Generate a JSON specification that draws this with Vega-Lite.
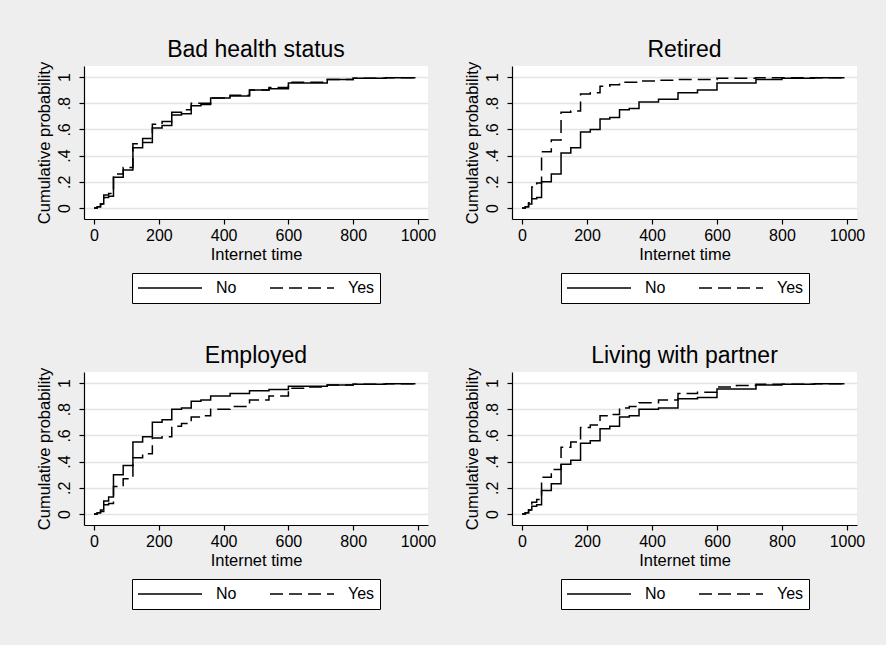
{
  "$schema": "https://vega.github.io/schema/vega-lite/v6.json",
  "background": "#EEEEEE",
  "padding": {"left": 35, "top": 39, "right": 32, "bottom": 38},
  "config": {
    "font": "Liberation Sans",
    "view": {"fill": "white", "stroke": null},
    "title": {"fontSize": 23, "fontWeight": "normal", "color": "black", "anchor": "middle", "frame": "group", "offset": -1},
    "axis": {"domainColor": "black", "domainWidth": 1.2, "tickColor": "black", "tickWidth": 1.2, "tickSize": 5, "labelFontSize": 16, "titleFontSize": 16.5, "titleFontWeight": "normal", "labelColor": "black", "titleColor": "black", "gridColor": "#E4E4E4", "gridWidth": 1.5},
    "axisX": {"labelPadding": 3, "titlePadding": 3},
    "axisY": {"labelPadding": 7, "titlePadding": 4},
    "legend": {"layout": {"bottom": {"anchor": "middle"}}}
  },
  "data": {"values": [
    {"panel": "Bad health status", "group": "No", "t": 0, "p": 0},
    {"panel": "Bad health status", "group": "No", "t": 10, "p": 0.01},
    {"panel": "Bad health status", "group": "No", "t": 20, "p": 0.03},
    {"panel": "Bad health status", "group": "No", "t": 30, "p": 0.08},
    {"panel": "Bad health status", "group": "No", "t": 45, "p": 0.09},
    {"panel": "Bad health status", "group": "No", "t": 60, "p": 0.235},
    {"panel": "Bad health status", "group": "No", "t": 90, "p": 0.29},
    {"panel": "Bad health status", "group": "No", "t": 120, "p": 0.46},
    {"panel": "Bad health status", "group": "No", "t": 150, "p": 0.5},
    {"panel": "Bad health status", "group": "No", "t": 180, "p": 0.61},
    {"panel": "Bad health status", "group": "No", "t": 210, "p": 0.63},
    {"panel": "Bad health status", "group": "No", "t": 240, "p": 0.71},
    {"panel": "Bad health status", "group": "No", "t": 270, "p": 0.72},
    {"panel": "Bad health status", "group": "No", "t": 300, "p": 0.78},
    {"panel": "Bad health status", "group": "No", "t": 330, "p": 0.79},
    {"panel": "Bad health status", "group": "No", "t": 360, "p": 0.84},
    {"panel": "Bad health status", "group": "No", "t": 420, "p": 0.855},
    {"panel": "Bad health status", "group": "No", "t": 480, "p": 0.9},
    {"panel": "Bad health status", "group": "No", "t": 540, "p": 0.91},
    {"panel": "Bad health status", "group": "No", "t": 600, "p": 0.955},
    {"panel": "Bad health status", "group": "No", "t": 720, "p": 0.98},
    {"panel": "Bad health status", "group": "No", "t": 800, "p": 0.99},
    {"panel": "Bad health status", "group": "No", "t": 900, "p": 0.995},
    {"panel": "Bad health status", "group": "No", "t": 990, "p": 1},
    {"panel": "Bad health status", "group": "Yes", "t": 0, "p": 0},
    {"panel": "Bad health status", "group": "Yes", "t": 10, "p": 0.01},
    {"panel": "Bad health status", "group": "Yes", "t": 20, "p": 0.03},
    {"panel": "Bad health status", "group": "Yes", "t": 30, "p": 0.1},
    {"panel": "Bad health status", "group": "Yes", "t": 45, "p": 0.11},
    {"panel": "Bad health status", "group": "Yes", "t": 60, "p": 0.26},
    {"panel": "Bad health status", "group": "Yes", "t": 90, "p": 0.31},
    {"panel": "Bad health status", "group": "Yes", "t": 120, "p": 0.49},
    {"panel": "Bad health status", "group": "Yes", "t": 150, "p": 0.53},
    {"panel": "Bad health status", "group": "Yes", "t": 180, "p": 0.64},
    {"panel": "Bad health status", "group": "Yes", "t": 210, "p": 0.66},
    {"panel": "Bad health status", "group": "Yes", "t": 240, "p": 0.73},
    {"panel": "Bad health status", "group": "Yes", "t": 270, "p": 0.75},
    {"panel": "Bad health status", "group": "Yes", "t": 300, "p": 0.8},
    {"panel": "Bad health status", "group": "Yes", "t": 330, "p": 0.8},
    {"panel": "Bad health status", "group": "Yes", "t": 360, "p": 0.84},
    {"panel": "Bad health status", "group": "Yes", "t": 420, "p": 0.86},
    {"panel": "Bad health status", "group": "Yes", "t": 480, "p": 0.9},
    {"panel": "Bad health status", "group": "Yes", "t": 540, "p": 0.92},
    {"panel": "Bad health status", "group": "Yes", "t": 600, "p": 0.96},
    {"panel": "Bad health status", "group": "Yes", "t": 720, "p": 0.98},
    {"panel": "Bad health status", "group": "Yes", "t": 800, "p": 0.99},
    {"panel": "Bad health status", "group": "Yes", "t": 900, "p": 0.995},
    {"panel": "Bad health status", "group": "Yes", "t": 990, "p": 1},
    {"panel": "Retired", "group": "No", "t": 0, "p": 0},
    {"panel": "Retired", "group": "No", "t": 10, "p": 0.01},
    {"panel": "Retired", "group": "No", "t": 20, "p": 0.03},
    {"panel": "Retired", "group": "No", "t": 30, "p": 0.07},
    {"panel": "Retired", "group": "No", "t": 45, "p": 0.08},
    {"panel": "Retired", "group": "No", "t": 60, "p": 0.2},
    {"panel": "Retired", "group": "No", "t": 90, "p": 0.26},
    {"panel": "Retired", "group": "No", "t": 120, "p": 0.42},
    {"panel": "Retired", "group": "No", "t": 150, "p": 0.46},
    {"panel": "Retired", "group": "No", "t": 180, "p": 0.58},
    {"panel": "Retired", "group": "No", "t": 210, "p": 0.6},
    {"panel": "Retired", "group": "No", "t": 240, "p": 0.68},
    {"panel": "Retired", "group": "No", "t": 270, "p": 0.69},
    {"panel": "Retired", "group": "No", "t": 300, "p": 0.75},
    {"panel": "Retired", "group": "No", "t": 330, "p": 0.76},
    {"panel": "Retired", "group": "No", "t": 360, "p": 0.81},
    {"panel": "Retired", "group": "No", "t": 420, "p": 0.83},
    {"panel": "Retired", "group": "No", "t": 480, "p": 0.88},
    {"panel": "Retired", "group": "No", "t": 540, "p": 0.9},
    {"panel": "Retired", "group": "No", "t": 600, "p": 0.955},
    {"panel": "Retired", "group": "No", "t": 720, "p": 0.98},
    {"panel": "Retired", "group": "No", "t": 800, "p": 0.99},
    {"panel": "Retired", "group": "No", "t": 900, "p": 0.995},
    {"panel": "Retired", "group": "No", "t": 990, "p": 1},
    {"panel": "Retired", "group": "Yes", "t": 0, "p": 0},
    {"panel": "Retired", "group": "Yes", "t": 10, "p": 0.01},
    {"panel": "Retired", "group": "Yes", "t": 20, "p": 0.04},
    {"panel": "Retired", "group": "Yes", "t": 30, "p": 0.16},
    {"panel": "Retired", "group": "Yes", "t": 45, "p": 0.19},
    {"panel": "Retired", "group": "Yes", "t": 60, "p": 0.43},
    {"panel": "Retired", "group": "Yes", "t": 90, "p": 0.52},
    {"panel": "Retired", "group": "Yes", "t": 120, "p": 0.73},
    {"panel": "Retired", "group": "Yes", "t": 150, "p": 0.74},
    {"panel": "Retired", "group": "Yes", "t": 180, "p": 0.87},
    {"panel": "Retired", "group": "Yes", "t": 210, "p": 0.88},
    {"panel": "Retired", "group": "Yes", "t": 240, "p": 0.93},
    {"panel": "Retired", "group": "Yes", "t": 270, "p": 0.94},
    {"panel": "Retired", "group": "Yes", "t": 300, "p": 0.96},
    {"panel": "Retired", "group": "Yes", "t": 360, "p": 0.97},
    {"panel": "Retired", "group": "Yes", "t": 420, "p": 0.975},
    {"panel": "Retired", "group": "Yes", "t": 480, "p": 0.98},
    {"panel": "Retired", "group": "Yes", "t": 600, "p": 0.99},
    {"panel": "Retired", "group": "Yes", "t": 720, "p": 0.995},
    {"panel": "Retired", "group": "Yes", "t": 990, "p": 1},
    {"panel": "Employed", "group": "No", "t": 0, "p": 0},
    {"panel": "Employed", "group": "No", "t": 10, "p": 0.01},
    {"panel": "Employed", "group": "No", "t": 20, "p": 0.03},
    {"panel": "Employed", "group": "No", "t": 30, "p": 0.1},
    {"panel": "Employed", "group": "No", "t": 45, "p": 0.13},
    {"panel": "Employed", "group": "No", "t": 60, "p": 0.3},
    {"panel": "Employed", "group": "No", "t": 90, "p": 0.37},
    {"panel": "Employed", "group": "No", "t": 120, "p": 0.55},
    {"panel": "Employed", "group": "No", "t": 150, "p": 0.59},
    {"panel": "Employed", "group": "No", "t": 180, "p": 0.7},
    {"panel": "Employed", "group": "No", "t": 210, "p": 0.72},
    {"panel": "Employed", "group": "No", "t": 240, "p": 0.8},
    {"panel": "Employed", "group": "No", "t": 270, "p": 0.81},
    {"panel": "Employed", "group": "No", "t": 300, "p": 0.86},
    {"panel": "Employed", "group": "No", "t": 330, "p": 0.87},
    {"panel": "Employed", "group": "No", "t": 360, "p": 0.9},
    {"panel": "Employed", "group": "No", "t": 420, "p": 0.92},
    {"panel": "Employed", "group": "No", "t": 480, "p": 0.94},
    {"panel": "Employed", "group": "No", "t": 540, "p": 0.95},
    {"panel": "Employed", "group": "No", "t": 600, "p": 0.975},
    {"panel": "Employed", "group": "No", "t": 720, "p": 0.985},
    {"panel": "Employed", "group": "No", "t": 800, "p": 0.99},
    {"panel": "Employed", "group": "No", "t": 900, "p": 0.995},
    {"panel": "Employed", "group": "No", "t": 990, "p": 1},
    {"panel": "Employed", "group": "Yes", "t": 0, "p": 0},
    {"panel": "Employed", "group": "Yes", "t": 10, "p": 0.01},
    {"panel": "Employed", "group": "Yes", "t": 20, "p": 0.02},
    {"panel": "Employed", "group": "Yes", "t": 30, "p": 0.07},
    {"panel": "Employed", "group": "Yes", "t": 45, "p": 0.08},
    {"panel": "Employed", "group": "Yes", "t": 60, "p": 0.21},
    {"panel": "Employed", "group": "Yes", "t": 90, "p": 0.27},
    {"panel": "Employed", "group": "Yes", "t": 120, "p": 0.43},
    {"panel": "Employed", "group": "Yes", "t": 150, "p": 0.46},
    {"panel": "Employed", "group": "Yes", "t": 180, "p": 0.58},
    {"panel": "Employed", "group": "Yes", "t": 210, "p": 0.59},
    {"panel": "Employed", "group": "Yes", "t": 240, "p": 0.67},
    {"panel": "Employed", "group": "Yes", "t": 270, "p": 0.69},
    {"panel": "Employed", "group": "Yes", "t": 300, "p": 0.74},
    {"panel": "Employed", "group": "Yes", "t": 330, "p": 0.75},
    {"panel": "Employed", "group": "Yes", "t": 360, "p": 0.8},
    {"panel": "Employed", "group": "Yes", "t": 420, "p": 0.82},
    {"panel": "Employed", "group": "Yes", "t": 480, "p": 0.87},
    {"panel": "Employed", "group": "Yes", "t": 540, "p": 0.9},
    {"panel": "Employed", "group": "Yes", "t": 600, "p": 0.96},
    {"panel": "Employed", "group": "Yes", "t": 660, "p": 0.97},
    {"panel": "Employed", "group": "Yes", "t": 720, "p": 0.985},
    {"panel": "Employed", "group": "Yes", "t": 800, "p": 0.99},
    {"panel": "Employed", "group": "Yes", "t": 900, "p": 0.995},
    {"panel": "Employed", "group": "Yes", "t": 990, "p": 1},
    {"panel": "Living with partner", "group": "No", "t": 0, "p": 0},
    {"panel": "Living with partner", "group": "No", "t": 10, "p": 0.01},
    {"panel": "Living with partner", "group": "No", "t": 20, "p": 0.03},
    {"panel": "Living with partner", "group": "No", "t": 30, "p": 0.06},
    {"panel": "Living with partner", "group": "No", "t": 45, "p": 0.07},
    {"panel": "Living with partner", "group": "No", "t": 60, "p": 0.18},
    {"panel": "Living with partner", "group": "No", "t": 90, "p": 0.23},
    {"panel": "Living with partner", "group": "No", "t": 120, "p": 0.38},
    {"panel": "Living with partner", "group": "No", "t": 150, "p": 0.41},
    {"panel": "Living with partner", "group": "No", "t": 180, "p": 0.54},
    {"panel": "Living with partner", "group": "No", "t": 210, "p": 0.56},
    {"panel": "Living with partner", "group": "No", "t": 240, "p": 0.65},
    {"panel": "Living with partner", "group": "No", "t": 270, "p": 0.67},
    {"panel": "Living with partner", "group": "No", "t": 300, "p": 0.74},
    {"panel": "Living with partner", "group": "No", "t": 330, "p": 0.75},
    {"panel": "Living with partner", "group": "No", "t": 360, "p": 0.8},
    {"panel": "Living with partner", "group": "No", "t": 420, "p": 0.81},
    {"panel": "Living with partner", "group": "No", "t": 480, "p": 0.88},
    {"panel": "Living with partner", "group": "No", "t": 540, "p": 0.89},
    {"panel": "Living with partner", "group": "No", "t": 600, "p": 0.955},
    {"panel": "Living with partner", "group": "No", "t": 720, "p": 0.985},
    {"panel": "Living with partner", "group": "No", "t": 800, "p": 0.99},
    {"panel": "Living with partner", "group": "No", "t": 900, "p": 0.995},
    {"panel": "Living with partner", "group": "No", "t": 990, "p": 1},
    {"panel": "Living with partner", "group": "Yes", "t": 0, "p": 0},
    {"panel": "Living with partner", "group": "Yes", "t": 10, "p": 0.01},
    {"panel": "Living with partner", "group": "Yes", "t": 20, "p": 0.03},
    {"panel": "Living with partner", "group": "Yes", "t": 30, "p": 0.09},
    {"panel": "Living with partner", "group": "Yes", "t": 45, "p": 0.11},
    {"panel": "Living with partner", "group": "Yes", "t": 60, "p": 0.28},
    {"panel": "Living with partner", "group": "Yes", "t": 90, "p": 0.34},
    {"panel": "Living with partner", "group": "Yes", "t": 120, "p": 0.51},
    {"panel": "Living with partner", "group": "Yes", "t": 150, "p": 0.55},
    {"panel": "Living with partner", "group": "Yes", "t": 180, "p": 0.66},
    {"panel": "Living with partner", "group": "Yes", "t": 210, "p": 0.68},
    {"panel": "Living with partner", "group": "Yes", "t": 240, "p": 0.75},
    {"panel": "Living with partner", "group": "Yes", "t": 270, "p": 0.76},
    {"panel": "Living with partner", "group": "Yes", "t": 300, "p": 0.81},
    {"panel": "Living with partner", "group": "Yes", "t": 330, "p": 0.82},
    {"panel": "Living with partner", "group": "Yes", "t": 360, "p": 0.85},
    {"panel": "Living with partner", "group": "Yes", "t": 420, "p": 0.87},
    {"panel": "Living with partner", "group": "Yes", "t": 480, "p": 0.92},
    {"panel": "Living with partner", "group": "Yes", "t": 540, "p": 0.93},
    {"panel": "Living with partner", "group": "Yes", "t": 600, "p": 0.97},
    {"panel": "Living with partner", "group": "Yes", "t": 660, "p": 0.98},
    {"panel": "Living with partner", "group": "Yes", "t": 720, "p": 0.99},
    {"panel": "Living with partner", "group": "Yes", "t": 900, "p": 0.995},
    {"panel": "Living with partner", "group": "Yes", "t": 990, "p": 1}
  ]},
  "columns": 2,
  "spacing": {"row": 41, "column": 27},
  "resolve": {"legend": {"strokeDash": "independent"}, "scale": {"strokeDash": "independent"}},
  "concat": [
    {
      "title": "Bad health status",
      "width": 344, "height": 153,
      "transform": [{"filter": "datum.panel === 'Bad health status'"}],
      "mark": {"type": "line", "interpolate": "step-after", "color": "black", "strokeWidth": 1.5},
      "encoding": {
        "x": {"field": "t", "type": "quantitative", "scale": {"domain": [-31, 1031], "nice": false, "zero": false}, "axis": {"title": "Internet time", "values": [0, 200, 400, 600, 800, 1000], "format": "d", "grid": false}},
        "y": {"field": "p", "type": "quantitative", "scale": {"domain": [-0.084, 1.084], "nice": false, "zero": false}, "axis": {"title": "Cumulative probability", "values": [0, 0.2, 0.4, 0.6, 0.8, 1], "labelExpr": "datum.value == 0 ? '0' : datum.value == 1 ? '1' : replace(format(datum.value, '.1f'), '0.', '.')", "labelAngle": -90, "grid": true}},
        "strokeDash": {"field": "group", "type": "nominal", "scale": {"domain": ["No", "Yes"], "range": [[1, 0], [13, 6]]}, "legend": {"orient": "bottom", "direction": "horizontal", "title": null, "offset": 10, "strokeColor": "black", "fillColor": "white", "padding": 5, "clipHeight": 20, "symbolType": "stroke", "symbolSize": 4096, "symbolStrokeWidth": 1.3, "symbolStrokeColor": "black", "labelFontSize": 16, "labelColor": "black", "columnPadding": 32, "labelOffset": 13}}
      }
    },
    {
      "title": "Retired",
      "width": 345, "height": 153,
      "transform": [{"filter": "datum.panel === 'Retired'"}],
      "mark": {"type": "line", "interpolate": "step-after", "color": "black", "strokeWidth": 1.5},
      "encoding": {
        "x": {"field": "t", "type": "quantitative", "scale": {"domain": [-31, 1031], "nice": false, "zero": false}, "axis": {"title": "Internet time", "values": [0, 200, 400, 600, 800, 1000], "format": "d", "grid": false}},
        "y": {"field": "p", "type": "quantitative", "scale": {"domain": [-0.084, 1.084], "nice": false, "zero": false}, "axis": {"title": "Cumulative probability", "values": [0, 0.2, 0.4, 0.6, 0.8, 1], "labelExpr": "datum.value == 0 ? '0' : datum.value == 1 ? '1' : replace(format(datum.value, '.1f'), '0.', '.')", "labelAngle": -90, "grid": true}},
        "strokeDash": {"field": "group", "type": "nominal", "scale": {"domain": ["No", "Yes"], "range": [[1, 0], [13, 6]]}, "legend": {"orient": "bottom", "direction": "horizontal", "title": null, "offset": 10, "strokeColor": "black", "fillColor": "white", "padding": 5, "clipHeight": 20, "symbolType": "stroke", "symbolSize": 4096, "symbolStrokeWidth": 1.3, "symbolStrokeColor": "black", "labelFontSize": 16, "labelColor": "black", "columnPadding": 32, "labelOffset": 13}}
      }
    },
    {
      "title": "Employed",
      "width": 344, "height": 153,
      "transform": [{"filter": "datum.panel === 'Employed'"}],
      "mark": {"type": "line", "interpolate": "step-after", "color": "black", "strokeWidth": 1.5},
      "encoding": {
        "x": {"field": "t", "type": "quantitative", "scale": {"domain": [-31, 1031], "nice": false, "zero": false}, "axis": {"title": "Internet time", "values": [0, 200, 400, 600, 800, 1000], "format": "d", "grid": false}},
        "y": {"field": "p", "type": "quantitative", "scale": {"domain": [-0.084, 1.084], "nice": false, "zero": false}, "axis": {"title": "Cumulative probability", "values": [0, 0.2, 0.4, 0.6, 0.8, 1], "labelExpr": "datum.value == 0 ? '0' : datum.value == 1 ? '1' : replace(format(datum.value, '.1f'), '0.', '.')", "labelAngle": -90, "grid": true}},
        "strokeDash": {"field": "group", "type": "nominal", "scale": {"domain": ["No", "Yes"], "range": [[1, 0], [13, 6]]}, "legend": {"orient": "bottom", "direction": "horizontal", "title": null, "offset": 10, "strokeColor": "black", "fillColor": "white", "padding": 5, "clipHeight": 20, "symbolType": "stroke", "symbolSize": 4096, "symbolStrokeWidth": 1.3, "symbolStrokeColor": "black", "labelFontSize": 16, "labelColor": "black", "columnPadding": 32, "labelOffset": 13}}
      }
    },
    {
      "title": "Living with partner",
      "width": 345, "height": 153,
      "transform": [{"filter": "datum.panel === 'Living with partner'"}],
      "mark": {"type": "line", "interpolate": "step-after", "color": "black", "strokeWidth": 1.5},
      "encoding": {
        "x": {"field": "t", "type": "quantitative", "scale": {"domain": [-31, 1031], "nice": false, "zero": false}, "axis": {"title": "Internet time", "values": [0, 200, 400, 600, 800, 1000], "format": "d", "grid": false}},
        "y": {"field": "p", "type": "quantitative", "scale": {"domain": [-0.084, 1.084], "nice": false, "zero": false}, "axis": {"title": "Cumulative probability", "values": [0, 0.2, 0.4, 0.6, 0.8, 1], "labelExpr": "datum.value == 0 ? '0' : datum.value == 1 ? '1' : replace(format(datum.value, '.1f'), '0.', '.')", "labelAngle": -90, "grid": true}},
        "strokeDash": {"field": "group", "type": "nominal", "scale": {"domain": ["No", "Yes"], "range": [[1, 0], [13, 6]]}, "legend": {"orient": "bottom", "direction": "horizontal", "title": null, "offset": 10, "strokeColor": "black", "fillColor": "white", "padding": 5, "clipHeight": 20, "symbolType": "stroke", "symbolSize": 4096, "symbolStrokeWidth": 1.3, "symbolStrokeColor": "black", "labelFontSize": 16, "labelColor": "black", "columnPadding": 32, "labelOffset": 13}}
      }
    }
  ]
}
